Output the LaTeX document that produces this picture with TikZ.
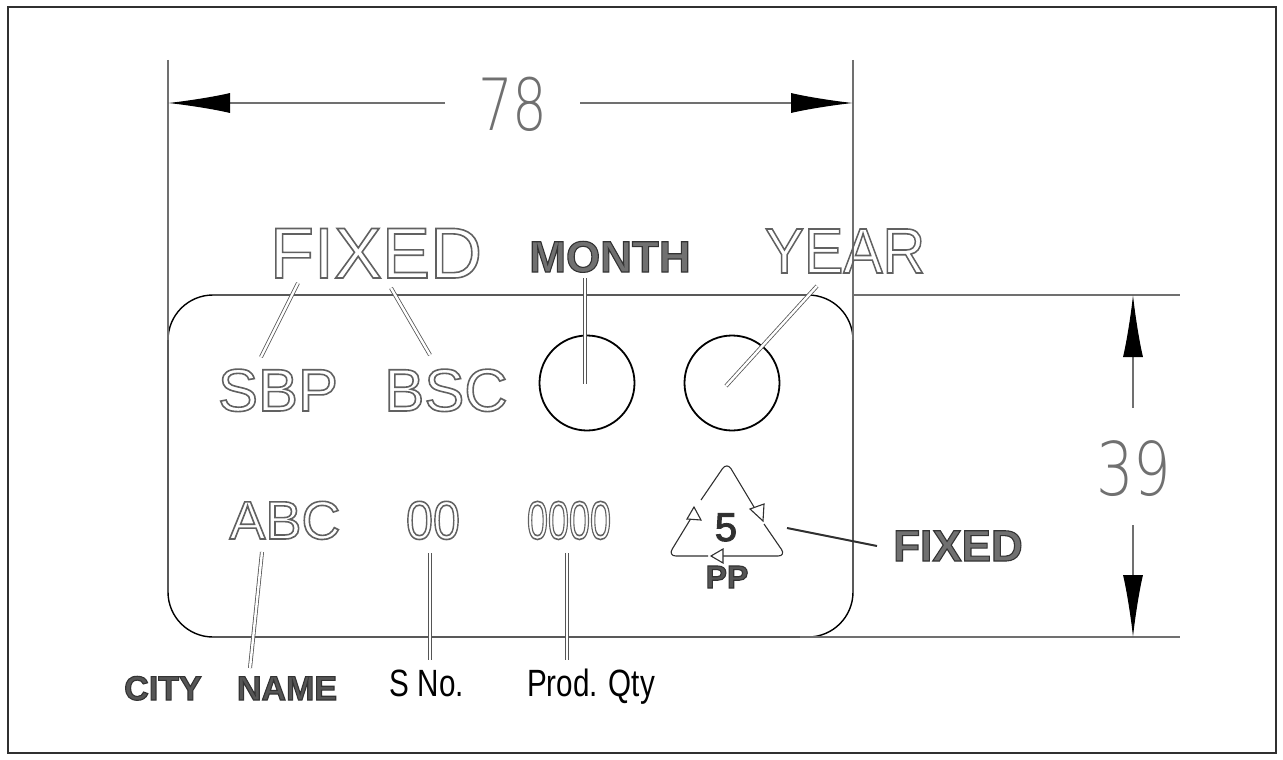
\documentclass[tikz,border=0pt]{standalone}
\usepackage{fontspec}
\setmainfont{Liberation Sans}
\newfontfamily\thinfont{DejaVu Sans ExtraLight}
\usetikzlibrary{arrows.meta}
\definecolor{olgray}{HTML}{707070}
\definecolor{ldgray}{HTML}{555555}
\definecolor{dk}{HTML}{303030}
\newcommand\fsz[1]{\fontsize{#1}{#1}\selectfont}
% outlined (hollow) text: stroke only
\newcommand\hollow[1]{\special{pdf:literal direct 1 Tr 1.6 w 0.38 G}#1\special{pdf:literal direct 0 Tr}}
% filled text with darker rim
\newcommand\rim[1]{\special{pdf:literal direct 2 Tr 1.1 w 0.2 G}#1\special{pdf:literal direct 0 Tr}}
\tikzset{
  lbl/.style={inner sep=0pt, anchor=base, text=dk},
  leader/.style={draw=ldgray, line width=0.8pt, double=white, double distance=2.4pt},
  extline/.style={draw=olgray, line width=1.3pt},
  dimline/.style={draw=olgray, line width=1.3pt},
  dimtip/.style={-{Latex[length=62pt,width=20pt,color=black]}},
}
\begin{document}
\begin{tikzpicture}[x=1pt,y=-1pt]
\useasboundingbox (0,0) rectangle (1283,760);
\draw[draw=dk, line width=1.8pt] (8,7) rectangle (1276,753);
% part outline
\draw[black, line width=1.4pt, rounded corners=45pt] (168,295) -- (853,295) -- (853,637) -- (168,637) -- cycle;
% extension lines
\coordinate (exL1) at (168,60);  \coordinate (exL2) at (168,340);
\coordinate (exR1) at (853,60);  \coordinate (exR2) at (853,340);
\coordinate (exT1) at (853,295); \coordinate (exT2) at (1180,295);
\coordinate (exB1) at (800,637); \coordinate (exB2) at (1180,637);
\draw[extline] (exL1) -- (exL2);
\draw[extline] (exR1) -- (exR2);
\draw[extline] (exT1) -- (exT2);
\draw[extline] (exB1) -- (exB2);
% dimension 78
\node[lbl, text=olgray] (d78) at (513,130) {\fsz{72}\thinfont\scalebox{0.76}[1]{78}};
\coordinate (a78L) at (168,103); \coordinate (a78R) at (853,103);
\coordinate (g78L) at (445,103); \coordinate (g78R) at (580,103);
\draw[dimline, dimtip] (g78L) -- (a78L);
\draw[dimline, dimtip] (g78R) -- (a78R);
% dimension 39
\node[lbl, text=olgray] (d39) at (1134,495) {\fsz{74}\thinfont\scalebox{0.8}[1]{39}};
\coordinate (a39T) at (1133,295); \coordinate (a39B) at (1133,637);
\coordinate (g39T) at (1133,408); \coordinate (g39B) at (1133,525);
\draw[dimline, dimtip] (g39T) -- (a39T);
\draw[dimline, dimtip] (g39B) -- (a39B);
% circles
\node[draw=black, line width=1.8pt, circle, minimum size=95pt, inner sep=0pt] (cM) at (587,383) {};
\node[draw=black, line width=1.8pt, circle, minimum size=95pt, inner sep=0pt] (cY) at (732,383) {};
% top texts
\node[lbl] (fixA) at (376,278) {\fsz{72}\hollow{FIXED}};
\node[lbl, text=olgray] (month) at (610,272) {\fsz{44}\bfseries\rim{MONTH}};
\node[lbl] (year) at (845,273) {\fsz{64}\scalebox{0.92}[1]{\hollow{YEAR}}};
\node[lbl] (sbp) at (278,411) {\fsz{60}\hollow{SBP}};
\node[lbl] (bsc) at (446,411) {\fsz{60}\hollow{BSC}};
% leaders top
\coordinate (lS1) at (298,283); \coordinate (lS2) at (261,357);
\coordinate (lB1) at (391,288); \coordinate (lB2) at (430,355);
\coordinate (lM1) at (585,278); \coordinate (lM2) at (585,384);
\coordinate (lY1) at (817,286); \coordinate (lY2) at (726,386);
\draw[leader] (lS1) -- (lS2);
\draw[leader] (lB1) -- (lB2);
\draw[leader] (lM1) -- (lM2);
\draw[leader] (lY1) -- (lY2);
% bottom texts
\node[lbl] (abc) at (285,539) {\fsz{54}\hollow{ABC}};
\node[lbl] (sno) at (433,539) {\fsz{54}\scalebox{0.9}[1]{\hollow{00}}};
\node[lbl] (qty) at (569,539) {\fsz{54}\scalebox{0.7}[1]{\hollow{0000}}};
\coordinate (lA1) at (262,552); \coordinate (lA2) at (250,668);
\coordinate (lN1) at (430,553); \coordinate (lN2) at (430,660);
\coordinate (lQ1) at (567,553); \coordinate (lQ2) at (567,660);
\draw[leader] (lA1) -- (lA2);
\draw[leader] (lN1) -- (lN2);
\draw[leader] (lQ1) -- (lQ2);
\node[lbl, text=ldgray] (city) at (163,700) {\fsz{34}\bfseries\rim{CITY}};
\node[lbl, text=ldgray] (name) at (287,700) {\fsz{34}\bfseries\rim{NAME}};
\node[lbl, text=black] (snol) at (427,696) {\fsz{38}\scalebox{0.78}[1]{S No.}};
\node[lbl, text=black] (qtyl) at (591,696) {\fsz{38}\scalebox{0.78}[1]{Prod. Qty}};
% recycling symbol
\begin{scope}[leader, draw=dk, line width=1.1pt, double distance=4pt, rounded corners=8pt]
  \draw (701,500) -- (727,462) -- (757,512);
  \draw (764,524) -- (786,556) -- (719,556);
  \draw (708,556) -- (668,556) -- (693,515);
\end{scope}
\begin{scope}[draw=dk, fill=white, line width=1.1pt]
  \filldraw (750,509) -- (764,504) -- (763,521) -- cycle;
  \filldraw (723,549) -- (711,556) -- (723,563) -- cycle;
  \filldraw (687,519) -- (694,507) -- (701,520) -- cycle;
\end{scope}
\node[lbl] (five) at (726,541) {\fsz{40}\rim{5}};
\node[lbl, text=ldgray] (pp) at (727,588) {\fsz{32}\bfseries\rim{PP}};
\node[lbl, text=olgray] (fixB) at (958,561) {\fsz{44}\bfseries\rim{FIXED}};
\coordinate (lF1) at (787,528); \coordinate (lF2) at (877,546);
\draw[draw=dk, line width=2pt] (lF1) -- (lF2);
\end{tikzpicture}
\end{document}
